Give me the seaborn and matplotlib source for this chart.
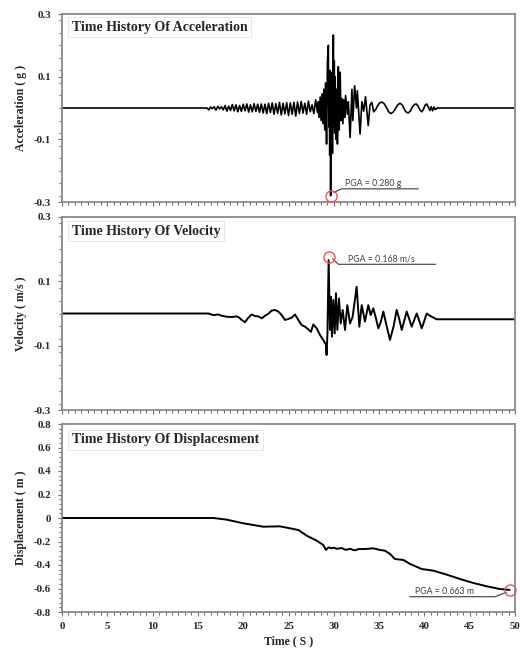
import numpy as np
import pandas as pd
import matplotlib
matplotlib.use("Agg")
import matplotlib.pyplot as plt
import seaborn as sns
from matplotlib.ticker import MultipleLocator, FuncFormatter

# ---------------- data ----------------
# Acceleration (g): low-level noise sampled on a 0.2 s grid from 16.0 s to 28.2 s
acc_noise_t = np.round(np.arange(16.0, 28.21, 0.2), 1)
acc_noise_v = [
    0.000, -0.006, 0.003, -0.002, 0.004, -0.007, 0.005, -0.003, 0.004, -0.006,
    0.008, -0.010, 0.006, -0.008, 0.011, -0.009, 0.010, -0.012, 0.008, -0.011,
    0.012, -0.009, 0.013, -0.013, 0.010, -0.012, 0.014, -0.011, 0.012, -0.014,
    0.013, -0.016, 0.012, -0.018, 0.015, -0.014, 0.016, -0.020, 0.014, -0.017,
    0.018, -0.022, 0.015, -0.019, 0.017, -0.024, 0.016, -0.020, 0.018, -0.026,
    0.019, -0.018, 0.021, -0.016, 0.015, -0.020, 0.022, -0.012, 0.010, -0.018,
    0.026, -0.015,
]
# strong-motion part
acc_burst_t = [28.3, 28.4, 28.5, 28.6, 28.7, 28.8, 28.9, 29.0, 29.1, 29.2, 29.3, 29.4,
               29.45, 29.5, 29.55, 29.6, 29.65, 29.7, 29.75, 29.8, 29.85, 29.9, 29.95,
               30.0, 30.05, 30.1, 30.15, 30.25, 30.35, 30.4, 30.5, 30.6, 30.7, 30.8,
               30.9, 31.0, 31.1, 31.2, 31.3, 31.5, 31.6, 31.8, 32.0, 32.1, 32.3, 32.5,
               32.6, 32.9, 33.1, 33.3, 33.5, 33.8, 34.0, 34.2]
acc_burst_v = [0.020, -0.030, 0.035, -0.040, 0.045, -0.050, 0.060, -0.070, 0.080, -0.115,
               0.150, 0.200, -0.060, 0.090, -0.150, 0.120, -0.280, 0.050, -0.120, 0.114,
               -0.145, 0.060, 0.233, -0.060, 0.150, -0.080, 0.100, -0.100, 0.060, -0.115,
               0.132, -0.070, 0.114, -0.040, 0.030, -0.050, 0.026, -0.030, 0.040, -0.020,
               0.020, -0.094, 0.060, -0.040, 0.071, 0.000, 0.055, -0.083, 0.020, -0.010,
               0.036, -0.056, 0.010, 0.018]
# coda oscillations
acc_coda_t = [34.4, 34.65, 34.85, 35.05, 35.3, 35.55, 35.8, 36.05, 36.3, 36.55, 36.8,
              37.05, 37.3, 37.55, 37.75, 37.95, 38.2, 38.45, 38.65, 38.9, 39.1, 39.3,
              39.5, 39.7, 39.9, 40.05, 40.25, 40.45, 40.6, 40.75, 40.9, 41.05, 41.2,
              41.4, 50.0]
acc_coda_v = [-0.012, -0.004, 0.008, 0.016, 0.019, 0.014, 0.002, -0.012, -0.018, -0.013,
              -0.002, 0.010, 0.015, 0.010, -0.002, -0.012, -0.016, -0.010, 0.002, 0.011,
              0.013, 0.006, -0.006, -0.012, -0.004, 0.008, 0.013, 0.002, -0.008, 0.004,
              -0.009, 0.003, -0.005, 0.000, 0.000]

# Velocity (m/s)
vel_t = [0.0, 16.15, 16.70, 17.25, 17.62, 18.18, 18.73, 19.28, 19.57, 19.83, 20.20,
         20.57, 20.94, 21.30, 21.67, 22.04, 22.41, 22.77, 23.14, 23.51, 23.88, 24.25,
         24.61, 24.98, 25.35, 25.72, 26.08, 26.45, 26.82, 27.18, 27.48, 27.74, 28.11,
         28.48, 28.84, 29.14, 29.20, 29.30, 29.43, 29.58, 29.69, 29.80, 29.95, 30.10,
         30.24, 30.39, 30.57, 30.76, 30.98, 31.24, 31.49, 31.79, 32.08, 32.52, 32.82,
         33.08, 33.44, 33.81, 34.07, 34.36, 34.65, 34.92, 35.20, 35.47, 35.80, 36.20,
         36.60, 36.94, 37.20, 37.50, 37.80, 38.05, 38.30, 38.60, 38.90, 39.15, 39.40,
         39.70, 40.00, 40.25, 40.55, 40.80, 41.36, 50.0]
vel_v = [0.0, 0.000, -0.005, -0.003, -0.007, -0.010, -0.011, -0.009, -0.013, -0.020, -0.027,
         -0.013, -0.003, -0.008, -0.009, -0.015, -0.007, -0.001, 0.009, 0.011, 0.006, -0.005,
         -0.020, -0.017, -0.013, -0.003, -0.020, -0.036, -0.041, -0.049, -0.057, -0.034, -0.046,
         -0.067, -0.082, -0.098, -0.129, -0.060, 0.166, -0.051, 0.052, -0.072, 0.042, -0.062,
         0.063, -0.051, 0.047, -0.031, 0.011, -0.051, 0.026, -0.031, -0.010, 0.083, -0.041,
         0.026, -0.025, 0.026, -0.005, 0.016, -0.015, -0.046, -0.025, 0.006, -0.035, -0.082,
         -0.040, 0.011, -0.015, -0.051, -0.020, 0.006, -0.015, -0.041, -0.018, 0.000, -0.020,
         -0.046, -0.022, 0.000, -0.006, -0.010, -0.018, -0.018]

# Displacement (m)
disp_t = [0.0, 16.70, 18.18, 20.01, 22.22, 24.06, 25.17, 26.09, 27.00, 28.11, 28.84,
          29.14, 29.40, 29.77, 30.00, 30.30, 30.68, 30.90, 31.20, 31.42, 31.80, 32.15,
          32.40, 32.70, 33.44, 34.36, 35.10, 35.65, 36.20, 36.75, 37.67, 38.41, 39.70,
          40.98, 42.46, 43.93, 45.40, 46.87, 48.30, 49.40]
disp_v = [0.0, 0.000, -0.014, -0.045, -0.074, -0.071, -0.088, -0.102, -0.150, -0.193, -0.230,
          -0.272, -0.250, -0.258, -0.252, -0.262, -0.258, -0.256, -0.268, -0.270, -0.262, -0.272,
          -0.275, -0.264, -0.264, -0.258, -0.272, -0.278, -0.306, -0.349, -0.357, -0.391, -0.434,
          -0.448, -0.482, -0.519, -0.553, -0.581, -0.604, -0.612]

acc_t = [0.0] + list(acc_noise_t) + acc_burst_t + acc_coda_t
acc_v = [0.0] + list(acc_noise_v) + acc_burst_v + acc_coda_v

titles = ["Time History Of Acceleration", "Time History Of Velocity",
          "Time History Of Displacesment"]
ylabels = ["Acceleration ( g )", "Velocity ( m/s )", "Displacement ( m )"]
pga_labels = ["PGA = 0.280 g", "PGA = 0.168 m/s", "PGA = 0.663 m"]
xlabel = "Time ( S )"

# ---------------- figure ----------------
sns.set_theme(style="white")
plt.rcParams["font.family"] = ["Liberation Serif", "DejaVu Serif"]
plt.rcParams["axes.unicode_minus"] = False

W, H = 520, 650
fig = plt.figure(figsize=(W / 100, H / 100), dpi=100)
fig.patch.set_facecolor("white")


def rect(l, t, r, b):
    return [l / W, 1 - b / H, (r - l) / W, (b - t) / H]


ax1 = fig.add_axes(rect(62, 14, 515, 202))
ax2 = fig.add_axes(rect(62, 217, 515, 410))
ax3 = fig.add_axes(rect(62, 424, 515, 612))
axes = [ax1, ax2, ax3]

dfs = [pd.DataFrame({"t": acc_t, "v": acc_v}),
       pd.DataFrame({"t": vel_t, "v": vel_v}),
       pd.DataFrame({"t": disp_t, "v": disp_v})]
lws = [1.2, 1.4, 1.4]

for ax, df, lw in zip(axes, dfs, lws):
    sns.lineplot(data=df, x="t", y="v", ax=ax, color="black", linewidth=lw,
                 sort=False, estimator=None)

fmt = FuncFormatter(lambda v, p: "0" if abs(v) < 1e-9 else f"{v:g}")
ylims = [(-0.3, 0.3), (-0.3, 0.3), (-0.8, 0.8)]
yticks = [[-0.3, -0.1, 0.1, 0.3], [-0.3, -0.1, 0.1, 0.3],
          [-0.8, -0.6, -0.4, -0.2, 0.0, 0.2, 0.4, 0.6, 0.8]]
title_y = [0.93, 0.927, 0.915]

for i, ax in enumerate(axes):
    ax.set_facecolor("white")
    ax.set_xlim(0, 50)
    ax.set_ylim(*ylims[i])
    ax.set_yticks(yticks[i])
    ax.yaxis.set_major_formatter(fmt)
    ax.yaxis.set_minor_locator(MultipleLocator(0.04))
    ax.xaxis.set_major_locator(MultipleLocator(5))
    ax.xaxis.set_minor_locator(MultipleLocator(5 / 7))
    for s in ax.spines.values():
        s.set_color("#8a8a8a")
        s.set_linewidth(1.3)
    ax.tick_params(which="both", direction="out", color="#6f6f6f", width=0.8,
                   labelsize=7.8, left=True, bottom=True)
    ax.tick_params(axis="y", pad=5)
    ax.tick_params(axis="x", pad=4)
    ax.tick_params(which="major", length=3)
    ax.tick_params(which="minor", length=2)
    for lab in ax.get_yticklabels() + ax.get_xticklabels():
        lab.set_fontweight("bold")
    ax.set_ylabel(ylabels[i], fontsize=8.5, fontweight="bold")
    ax.yaxis.set_label_coords(-0.077, 0.5)
    ax.text(0.022, title_y[i], titles[i], transform=ax.transAxes, fontsize=10,
            fontweight="bold", ha="left", va="center", zorder=6,
            bbox=dict(boxstyle="square,pad=0.25", fc="white", ec="#e3e3e3", lw=0.6))
    if i < 2:
        ax.set_xlabel("")
        ax.tick_params(axis="x", labelbottom=False)

ax3.set_xlabel(xlabel, fontsize=8.5, fontweight="bold")
ax3.xaxis.set_label_coords(0.5, -0.125)

# ---------------- PGA annotations ----------------
circ = dict(marker="o", ms=8, mfc="none", mec="#ef5350", mew=1.0, ls="none",
            zorder=7, clip_on=False)
lead = dict(color="#3a3a3a", lw=0.8, zorder=6, clip_on=False)
txt = dict(fontsize=6.3, color="#404040", family=["Lato", "DejaVu Sans"],
           fontweight="normal", ha="left", va="bottom", zorder=7)

# acceleration: minimum
k = int(np.argmin(acc_v))
tp, vp = acc_t[k], acc_v[k]
ax1.plot([tp], [vp], **circ)
ax1.plot([tp + 0.35, tp + 1.2, tp + 9.7], [vp + 0.010, vp + 0.022, vp + 0.022], **lead)
ax1.text(tp + 1.6, vp + 0.025, pga_labels[0], **txt)

# velocity: maximum
k = int(np.argmax(vel_v))
tp, vp = vel_t[k], vel_v[k]
ax2.plot([tp], [vp + 0.01], **circ)
ax2.plot([tp + 0.45, tp + 1.07, tp + 11.8], [vp + 0.004, vp - 0.013, vp - 0.013], **lead)
ax2.text(tp + 2.1, vp - 0.010, pga_labels[1], **txt)

# displacement: last value
tp, vp = disp_t[-1], disp_v[-1]
ax3.plot([tp], [vp], **circ)
ax3.plot([tp - 0.35, tp - 1.6, tp - 11.0], [vp - 0.020, vp - 0.058, vp - 0.058], **lead)
ax3.text(tp - 10.4, vp - 0.052, pga_labels[2], **txt)

fig.savefig("out.png", dpi=100, facecolor="white")
